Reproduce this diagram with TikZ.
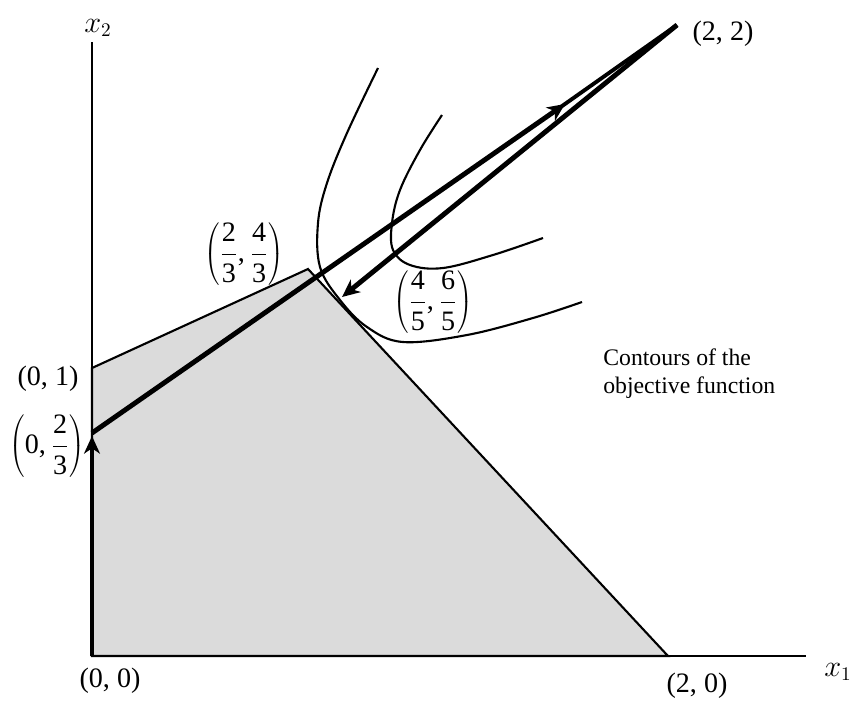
\documentclass[tikz,border=0pt]{standalone}
\usepackage{fontspec}
\setmainfont{Liberation Serif}
\usetikzlibrary{arrows.meta}
\newcommand{\tn}[1]{\mbox{#1}}
\begin{document}
\begin{tikzpicture}[x=0.02cm,y=-0.02cm,
  thinline/.style={line width=1.2pt, line join=round},
  thickline/.style={line width=2.8pt, line join=round},
  tipend/.style={-{Stealth[length=10pt,width=9pt,inset=3pt]}},
  lbl/.style={font=\fontsize{16}{19}\selectfont, inner sep=0pt},
  note/.style={font=\fontsize{13.5}{16}\selectfont, inner sep=0pt, align=left},
  region/.style={fill=black!14, draw=black, line width=1.2pt, line join=miter}]
\useasboundingbox (0,0) rectangle (853,704);
% key points
\coordinate (O) at (92,656);
\coordinate (A20) at (668,656);
\coordinate (P2343) at (308,269);
\coordinate (A01) at (92,368);
\coordinate (Y23) at (92,433);
\coordinate (Ytip) at (92,436);
\coordinate (T22) at (677,25);
\coordinate (Mid) at (565,104);
\coordinate (Mid2) at (560,107.5);
\coordinate (P4565) at (342,297);
\coordinate (Xend) at (806,656);
\coordinate (Yend) at (92,42);
% feasible region
\path[region] (O) -- (A20) -- (P2343) -- (A01) -- cycle;
% axes
\draw[thinline] (O) -- (Xend);
\draw[thinline] (O) -- (Yend);
% contours
\draw[thinline] plot[smooth, tension=0.6] coordinates {(378,68) (347,133) (327,183) (318,223) (320,267) (340,300) (367,327) (403,342) (467,335) (533,318) (582,302)};
\draw[thinline] plot[smooth, tension=0.6] coordinates {(442,115) (420,150) (400,190) (392,223) (393,250) (410,265) (443,268) (493,255) (543,238)};
% path of the algorithm
\draw[thickline, tipend] (O) -- (Ytip);
\draw[line width=2.2pt] (Mid2) -- (T22);
\draw[thickline, tipend] (Y23) -- (Mid);
\draw[thickline, tipend] (T22) -- (P4565);
% labels
\node[lbl] (lx2) at (98,28) {$x_2$};
\node[lbl] (lx1) at (838,672) {$x_1$};
\node[lbl] (l00) at (110,681) {(0, 0)};
\node[lbl] (l20) at (697,686) {(2, 0)};
\node[lbl] (l01) at (48,379) {(0, 1)};
\node[lbl] (l023) at (47,446) {$\left(\tn{0,}\,\displaystyle\frac{\tn{2}}{\tn{3}}\right)$};
\node[lbl] (l2343) at (244,254) {$\left(\displaystyle\frac{\tn{2}}{\tn{3}}\tn{,}\,\frac{\tn{4}}{\tn{3}}\right)$};
\node[lbl] (l4565) at (433,302) {$\left(\displaystyle\frac{\tn{4}}{\tn{5}}\tn{,}\,\frac{\tn{6}}{\tn{5}}\right)$};
\node[lbl] (l22) at (723,34) {(2, 2)};
\node[note, anchor=west] (cont) at (603,374) {Contours of the\\objective function};
\end{tikzpicture}
\end{document}
